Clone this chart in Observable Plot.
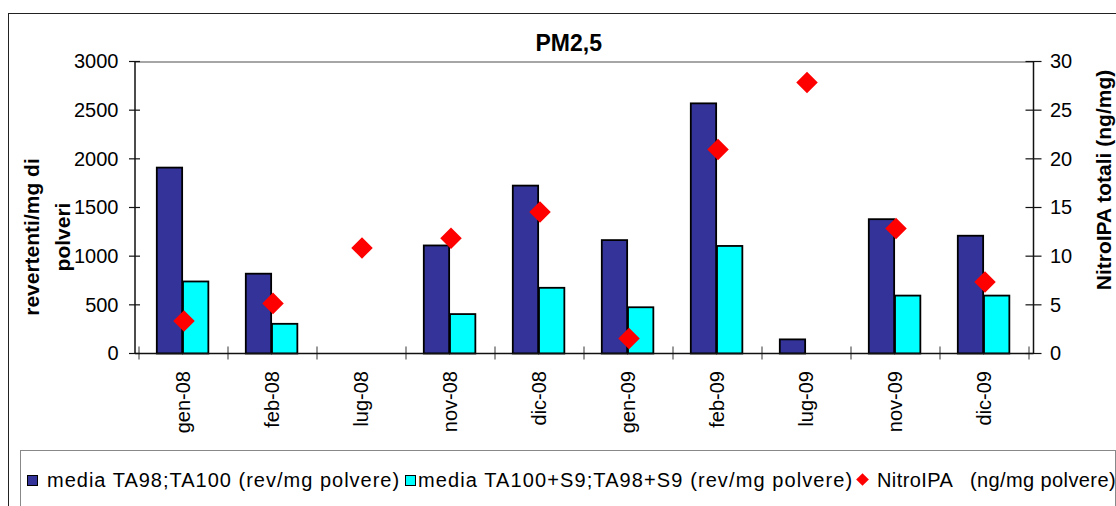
<!DOCTYPE html>
<html>
<head>
<meta charset="utf-8">
<script src="https://cdn.jsdelivr.net/npm/d3@7"></script>
<script src="https://cdn.jsdelivr.net/npm/@observablehq/plot@0.6"></script>
<style>
  html, body { margin: 0; padding: 0; background: #fff; }
  #wrap { position: relative; width: 1116px; height: 506px; overflow: hidden; font-family: "Liberation Sans", Arial, sans-serif; }
  #frame { position: absolute; left: 8px; top: 13px; width: 1300px; height: 700px; border-left: 1.5px solid #222; border-top: 1.5px solid #222; }
  #chart { position: absolute; left: 0; top: 0; }
  #legend { position: absolute; left: 20px; top: 450px; width: 1094px; height: 90px; border: 1px solid #888; background: #fff;
            font-size: 20px; color: #000; }
  .txt { position: absolute; top: 18px; white-space: pre; line-height: 23px; }
  .sw { position: absolute; top: 24px; width: 9px; height: 9px; border: 1.2px solid #000; }
  .dm { position: absolute; top: 24px; width: 9px; height: 9px; background: #ff0000; transform: rotate(45deg); }
</style>
</head>
<body>
<div id="wrap">
  <div id="frame"></div>
  <div id="chart"></div>
  <div id="legend"></div>
</div>
<script>
// Campaign months
const months = ["gen-08", "feb-08", "lug-08", "nov-08", "dic-08", "gen-09", "feb-09", "lug-09", "nov-09", "dic-09"];
// media TA98;TA100 (rev/mg polvere)
const ta = [1910, 820, null, 1110, 1725, 1165, 2570, 145, 1380, 1210];
// media TA100+S9;TA98+S9 (rev/mg polvere)
const taS9 = [740, 305, null, 405, 675, 475, 1105, null, 595, 595];
// NitroIPA (ng/mg polvere), right axis
const nitro = [3.4, 5.2, 10.9, 11.9, 14.6, 1.6, 21.0, 27.9, 12.9, 7.4];
// Axis ticks
const leftTicks = [0, 500, 1000, 1500, 2000, 2500, 3000];
const rightTicks = [0, 5, 10, 15, 20, 25, 30];

const seriesNames = [
  "media TA98;TA100 (rev/mg polvere)",
  "media TA100+S9;TA98+S9 (rev/mg polvere)",
  "NitroIPA   (ng/mg polvere)"
];
const colors = ["#333399", "#00ffff", "#ff0000"];

const rows = months.map((m, i) => ({month: m, ta: ta[i], taS9: taS9[i], nitro: nitro[i]}));

// right axis is drawn on the left scale: 30 ng/mg <-> 3000 rev/mg
const ratio = 3000 / 30;

const W = 1116, H = 449;
const ML = 135, MR = 82.5, MT = 61.5, MB = 95.5;
const step = (W - ML - MR) / months.length;
const barW = 26.2;
const side = 17.8;

// axis lines with crossing ticks
function axisLines(index, scales, values, dims) {
  const g = d3.create("svg:g");
  const x0 = dims.marginLeft, x1 = dims.width - dims.marginRight;
  const y0 = scales.y(0), yT = scales.y(3000);
  g.append("line").attr("x1", x0).attr("x2", x0).attr("y1", yT).attr("y2", y0).attr("stroke", "#111").attr("stroke-width", 1.5);
  g.append("line").attr("x1", x1).attr("x2", x1).attr("y1", yT).attr("y2", y0).attr("stroke", "#111").attr("stroke-width", 1.5);
  for (const t of leftTicks) {
    const y = scales.y(t);
    g.append("line").attr("x1", x0 - 6).attr("x2", x0 + 5).attr("y1", y).attr("y2", y).attr("stroke", "#111").attr("stroke-width", 1.2);
  }
  for (const t of rightTicks) {
    const y = scales.y(t * ratio);
    g.append("line").attr("x1", x1 - 8).attr("x2", x1 + 8).attr("y1", y).attr("y2", y).attr("stroke", "#111").attr("stroke-width", 1.2);
  }
  const bounds = months.map(m => scales.x(m));
  bounds.push(scales.x(months[months.length - 1]) + scales.x.bandwidth());
  for (const bx of bounds) {
    g.append("line").attr("x1", bx).attr("x2", bx).attr("y1", y0 - 7).attr("y2", y0 + 6).attr("stroke", "#555").attr("stroke-width", 1.2);
  }
  g.append("line").attr("x1", x0).attr("x2", x1).attr("y1", y0).attr("y2", y0).attr("stroke", "#111").attr("stroke-width", 1.5);
  return g.node();
}

const chart = Plot.plot({
  width: W,
  height: H,
  marginLeft: ML,
  marginRight: MR,
  marginTop: MT,
  marginBottom: MB,
  style: {fontFamily: "'Liberation Sans', Arial, sans-serif", fontSize: "20px", color: "#000", background: "transparent", overflow: "visible"},
  x: {domain: months, padding: 0, axis: null},
  y: {domain: [0, 3000], axis: null},
  marks: [
    Plot.ruleY([3000], {stroke: "#888", strokeWidth: 1.5}),
    Plot.barY(rows.filter(d => d.ta != null), {
      x: "month", y: "ta", fill: colors[0], stroke: "#000", strokeWidth: 1.8,
      insetLeft: side, insetRight: step - side - barW
    }),
    Plot.barY(rows.filter(d => d.taS9 != null), {
      x: "month", y: "taS9", fill: colors[1], stroke: "#000", strokeWidth: 1.8,
      insetLeft: side + barW, insetRight: step - side - 2 * barW
    }),
    axisLines,
    Plot.dot(rows, {x: "month", y: d => d.nitro * ratio, symbol: "diamond2", r: 9.7, fill: colors[2]}),
    Plot.axisY({ticks: leftTicks, tickFormat: d => String(d), tickSize: 0, tickPadding: 17, fontSize: 20, label: null}),
    Plot.axisY({anchor: "right", ticks: rightTicks.map(t => t * ratio), tickFormat: d => String(d / ratio), tickSize: 0, tickPadding: 16, fontSize: 20, label: null}),
    Plot.axisX({tickRotate: -90, tickSize: 0, tickPadding: 17, fontSize: 20, label: null}),
    Plot.text(["PM2,5"], {frameAnchor: "top", textAnchor: "middle", dx: -16, dy: -27, fontWeight: "bold", fontSize: 23}),
    Plot.text(["revertenti/mg di\npolveri"], {frameAnchor: "left", textAnchor: "middle", rotate: -90, dx: -91, dy: 29, fontWeight: "bold", fontSize: 21, lineHeight: 1.5}),
    Plot.text(["NitroIPA totali (ng/mg)"], {frameAnchor: "right", textAnchor: "middle", rotate: -90, dx: 70, dy: -28, fontWeight: "bold", fontSize: 21})
  ]
});
document.getElementById("chart").appendChild(chart);

// legend: marker and label positions inside the box
const legend = document.getElementById("legend");
const markerLefts = [6, 384, 837];
const textLefts = [26, 397, 856];
const spacing = ["1px", "1.1px", "0.4px"];
seriesNames.forEach((name, i) => {
  const mk = document.createElement("div");
  if (i < 2) { mk.className = "sw"; mk.style.background = colors[i]; }
  else { mk.className = "dm"; }
  mk.style.left = markerLefts[i] + "px";
  const tx = document.createElement("div");
  tx.className = "txt";
  tx.style.left = textLefts[i] + "px";
  tx.style.letterSpacing = spacing[i];
  tx.textContent = name;
  legend.appendChild(mk);
  legend.appendChild(tx);
});
</script>
</body>
</html>
